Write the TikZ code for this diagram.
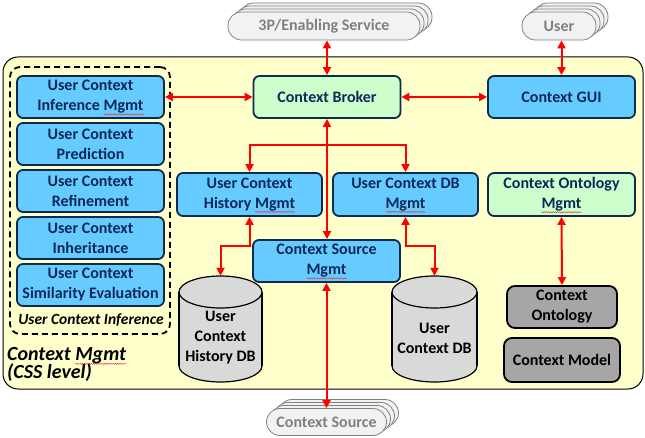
\documentclass[tikz,border=0pt]{standalone}
\usepackage{fontspec}
\setmainfont{Carlito}
\usetikzlibrary{arrows.meta,decorations.pathmorphing}
\definecolor{bgyellow}{HTML}{FFFFCC}
\definecolor{boxblue}{HTML}{66CCFF}
\definecolor{boxgreen}{HTML}{CCFFCC}
\definecolor{navy}{HTML}{10275A}
\definecolor{bordernavy}{HTML}{0F2A4F}
\definecolor{pillfill}{HTML}{F2F2F2}
\definecolor{pillgray}{HTML}{808080}
\definecolor{darkgraybox}{HTML}{A6A6A6}
\definecolor{cylgray}{HTML}{D9D9D9}
\definecolor{squigred}{HTML}{E04040}
\newlength\sqlen
\newcommand\sqg[1]{\settowidth\sqlen{#1}\leavevmode\rlap{\tikz[overlay,baseline=0pt,sharp corners,solid]\draw[draw=squigred,fill=none,line width=0.45pt,sharp corners,solid,decorate,decoration={snake,amplitude=0.6pt,segment length=2.2pt}](0pt,-3.5pt)--(\sqlen,-3.5pt);}#1}
\begin{document}
\begin{tikzpicture}[x=1pt,y=-1pt,
  txt/.style={font=\fontsize{16}{20}\selectfont\bfseries,align=center,inner sep=0pt},
  box/.style={txt,draw=bordernavy,line width=1.8pt,rounded corners=6pt,fill=boxblue,text=navy,minimum width=147pt,minimum height=42pt},
  gbox/.style={box,fill=boxgreen},
  dbox/.style={box,fill=darkgraybox,draw=black,text=black,rounded corners=8pt},
  pill/.style={txt,draw=pillgray,fill=pillfill,rounded corners=13.5pt,line width=0.8pt,minimum height=28pt,text=pillgray},
  biarr/.style={draw=red,line width=2pt,{Triangle[length=8pt,width=8pt]}-{Triangle[length=8pt,width=8pt]}},
  cyl/.style={draw=black,line width=1.2pt,fill=cylgray}]
\useasboundingbox (0,0) rectangle (645,438);
\fill[white] (0,0) rectangle (645,438);
% containers
\node[draw=black,line width=1pt,fill=bgyellow,rounded corners=15pt,minimum width=640pt,minimum height=332pt,inner sep=0pt] (css) at (323,223) {};
\node[draw=black,line width=1.8pt,dash pattern=on 6pt off 4pt,rounded corners=10pt,minimum width=160pt,minimum height=267pt,inner sep=0pt] (uci) at (90,200.5) {};
% stacked external pills
\foreach \k in {3,2,1} {
  \node[pill,minimum width=192pt,xshift={4pt*\k},yshift={3pt*\k}] (tpb\k) at (324,26) {};
  \node[pill,minimum width=74pt,xshift={4pt*\k},yshift={3pt*\k}] (usrb\k) at (559,26) {};
  \node[pill,minimum width=120pt,minimum height=27pt,xshift={4pt*\k},yshift={3pt*\k}] (csrcb\k) at (326.5,422) {};
}
\node[pill,minimum width=192pt] (tp) at (324,26) {3P/Enabling Service};
\node[pill,minimum width=74pt] (usr) at (559,26) {User};
\node[pill,minimum width=120pt,minimum height=27pt] (csrc) at (326.5,422) {Context Source};
% left stack
\node[box] (inf) at (90.5,97) {User Context\\Inference \sqg{Mgmt}};
\node[box] (pred) at (90.5,144) {User Context\\Prediction};
\node[box] (refi) at (90.5,191) {User Context\\Refinement};
\node[box] (inh) at (90.5,238) {User Context\\Inheritance};
\node[box] (sim) at (90.5,285) {User Context\\Similarity Evaluation};
\node[font=\fontsize{15.5}{17}\selectfont\bfseries\itshape,anchor=base,inner sep=0pt] (ucilabel) at (91,324) {User Context Inference};
\node[font=\fontsize{20}{18.5}\selectfont\bfseries\itshape,align=left,anchor=north west,inner sep=0pt] (cmlabel) at (7,347) {Context \sqg{Mgmt}\\(CSS level)};
% main boxes
\node[gbox] (broker) at (327,97) {Context Broker};
\node[box] (gui) at (561.5,97) {Context GUI};
\node[box,minimum width=145pt,minimum height=43pt] (hist) at (249.5,194.5) {User Context\\History \sqg{Mgmt}};
\node[box,minimum width=145pt,minimum height=43pt] (dbm) at (405.5,194.5) {User Context DB\\\sqg{Mgmt}};
\node[gbox,minimum height=43pt] (ontm) at (561.5,194.5) {Context Ontology\\\sqg{Mgmt}};
\node[box] (srcm) at (326.5,261) {Context Source\\\sqg{Mgmt}};
\node[dbox,minimum width=110pt] (ont) at (562,307) {Context\\Ontology};
\node[dbox,minimum width=116pt,minimum height=44pt] (model) at (562,360) {Context Model};
% cylinders
\draw[cyl] (220.5,366) ellipse[x radius=41.5,y radius=16];
\fill[cylgray] (179,292) rectangle (262,366);
\draw[cyl] (179,292) -- (179,366) (262,292) -- (262,366);
\draw[cyl] (220.5,292) ellipse[x radius=41.5,y radius=16];
\node[minimum width=83pt,minimum height=106pt,inner sep=0pt] (histdb) at (220.5,329) {};
\node[txt] (histdbtxt) at (220.5,338) {User\\Context\\History DB};
\draw[cyl] (434.5,366) ellipse[x radius=42.5,y radius=16];
\fill[cylgray] (392,292) rectangle (477,366);
\draw[cyl] (392,292) -- (392,366) (477,292) -- (477,366);
\draw[cyl] (434.5,292) ellipse[x radius=42.5,y radius=16];
\node[minimum width=85pt,minimum height=106pt,inner sep=0pt] (udb) at (434.5,329) {};
\node[txt] (udbtxt) at (434.5,338) {User\\Context DB};
% connectors
\coordinate (lvl) at (0,145);
\coordinate (lvl2) at (0,246);
\draw[biarr] (broker.north) -- (broker.north |- tp.south);
\draw[biarr] (gui.north) -- (gui.north |- usr.south);
\draw[biarr] (inf.east) -- (broker.west);
\draw[biarr] (broker.east) -- (gui.west);
\draw[biarr] (broker.south) -- (broker.south |- srcm.north);
\draw[biarr] (hist.north) -- (hist.north |- lvl) -- (dbm.north |- lvl) -- (dbm.north);
\draw[biarr] (hist.south) -- (hist.south |- lvl2) -| (histdb.north);
\draw[biarr] (dbm.south) -- (dbm.south |- lvl2) -| (udb.north);
\draw[biarr] (ontm.south) -- (ont.north);
\draw[biarr] (srcm.south) -- (srcm.south |- csrc.north);
\end{tikzpicture}
\end{document}
